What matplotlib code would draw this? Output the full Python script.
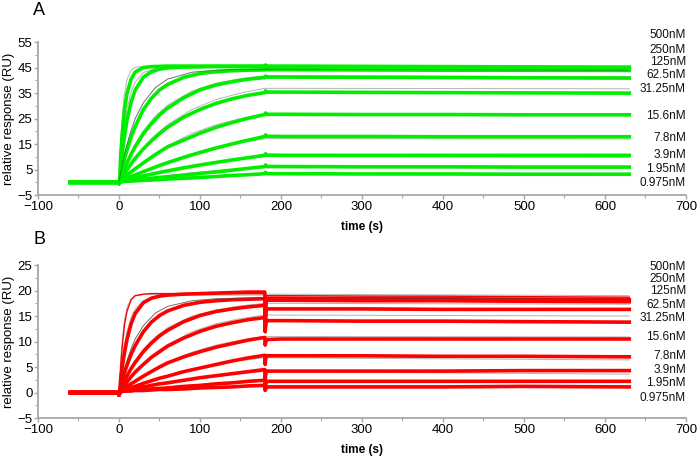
import matplotlib
matplotlib.use('Agg')
import matplotlib.pyplot as plt
from matplotlib.ticker import MultipleLocator, AutoMinorLocator

plt.rcParams['font.family'] = ['Liberation Sans', 'DejaVu Sans']

# --- data ---
conc_labels = ['500nM', '250nM', '125nM', '62.5nM', '31.25nM',
               '15.6nM', '7.8nM', '3.9nM', '1.95nM', '0.975nM']

base_t = [-60, -1, 0]
base_val = [0.0, 0.0, -0.5]

t_assoc = [1, 2, 4, 7, 10, 15, 20, 30, 40, 50, 60, 80, 100, 120, 140, 160, 180]

a_assoc = [
    [0, 10, 19, 29, 35, 40.5, 43.3, 45.0, 45.4, 45.5, 45.6, 45.6, 45.6, 45.6, 45.6, 45.6, 45.6],
    [0, 6, 11.5, 18.5, 24.5, 31.5, 36.2, 41.2, 43.4, 44.4, 44.9, 45.2, 45.3, 45.4, 45.4, 45.4, 45.4],
    [0, 3.0, 5.8, 9.5, 12.7, 17.8, 21.9, 28.5, 33.0, 36.2, 38.4, 41.2, 42.7, 43.4, 43.8, 44.0, 44.1],
    [0, 1.7, 3.3, 5.6, 7.7, 11.0, 14.0, 19.0, 23.0, 26.4, 29.1, 33.2, 36.3, 38.2, 39.5, 40.5, 41.1],
    [0, 1.1, 2.1, 3.6, 5.0, 7.3, 9.4, 13.1, 16.3, 19.1, 21.6, 25.6, 28.6, 31.0, 32.8, 34.2, 35.2],
    [0, 0.7, 1.3, 2.1, 2.9, 4.1, 5.3, 7.6, 9.8, 11.9, 13.9, 16.6, 19.3, 21.6, 23.5, 25.2, 26.6],
    [0, 0.5, 0.8, 1.2, 1.6, 2.3, 2.9, 4.2, 5.4, 6.6, 7.7, 9.8, 11.7, 13.5, 15.1, 16.6, 18.0],
    [0, 0.4, 0.6, 0.8, 1.0, 1.4, 1.8, 2.5, 3.2, 3.9, 4.5, 5.7, 6.8, 7.8, 8.8, 9.7, 10.6],
    [0, 0.3, 0.4, 0.5, 0.6, 0.8, 1.0, 1.3, 1.6, 1.9, 2.2, 2.8, 3.5, 4.1, 4.8, 5.5, 6.2],
    [0, 0.2, 0.3, 0.4, 0.5, 0.5, 0.6, 0.8, 0.9, 1.1, 1.3, 1.6, 1.9, 2.3, 2.7, 3.0, 3.4],
]

t_dissoc_a = [181, 183, 200, 300, 400, 500, 630]
a_dissoc = [
    [46.0, 45.6, 45.6, 45.5, 45.4, 45.3, 45.2],
    [45.8, 45.3, 45.2, 45.0, 44.9, 44.8, 44.6],
    [44.6, 44.2, 44.2, 44.1, 44.0, 44.0, 43.9],
    [41.7, 41.3, 41.3, 41.2, 41.1, 41.0, 40.9],
    [35.9, 35.4, 35.4, 35.3, 35.2, 35.1, 35.0],
    [27.2, 26.7, 26.7, 26.6, 26.6, 26.5, 26.5],
    [18.6, 18.1, 18.0, 18.0, 17.9, 17.9, 17.9],
    [11.2, 10.7, 10.6, 10.6, 10.6, 10.6, 10.6],
    [6.8, 6.2, 6.2, 6.1, 6.1, 6.0, 6.0],
    [3.9, 3.4, 3.4, 3.3, 3.3, 3.2, 3.2],
]

t_fit = [0, 3, 6, 10, 15, 20, 30, 45, 60, 90, 120, 150, 180, 630]
a_fit = [
    [0, 21, 33, 40.5, 44, 45.1, 45.5, 45.6, 45.6, 45.6, 45.6, 45.6, 45.6, 45.3],
    [0, 12, 21, 29, 35.5, 39.3, 43.0, 44.8, 45.2, 45.4, 45.4, 45.4, 45.4, 44.8],
    [0, 5.3, 10, 15, 20.5, 25, 31.2, 37.2, 40.5, 43.2, 44.0, 44.3, 44.4, 44.0],
    [0, 2.8, 5.3, 8.4, 12, 15, 20.2, 26, 30.3, 35.8, 38.9, 40.7, 41.8, 41.5],
    [0, 1.6, 3.1, 5.0, 7.3, 9.5, 13.4, 18.6, 22.6, 28.6, 32.5, 35.0, 36.9, 36.7],
    [0, 0.9, 1.8, 2.9, 4.2, 5.5, 8.0, 11.5, 14.4, 19.2, 22.6, 25.0, 26.8, 26.8],
    [0, 0.5, 1.0, 1.5, 2.3, 3.0, 4.4, 6.4, 8.2, 11.3, 13.8, 15.6, 17.1, 17.0],
    [0, 0.3, 0.6, 0.9, 1.3, 1.7, 2.5, 3.6, 4.7, 6.6, 8.2, 9.4, 10.2, 9.8],
    [0, 0.2, 0.4, 0.6, 0.8, 1.0, 1.4, 2.1, 2.7, 3.8, 4.6, 5.3, 5.8, 5.6],
    [0, 0.1, 0.2, 0.3, 0.4, 0.5, 0.8, 1.1, 1.4, 2.0, 2.5, 2.8, 3.1, 2.9],
]

b_assoc = [
    [0, 5, 9, 13.5, 16, 18.2, 19.0, 19.3, 19.4, 19.4, 19.4, 19.4, 19.4, 19.4, 19.4, 19.4, 19.4],
    [0, 2.6, 5.0, 8.0, 10.5, 13.5, 15.5, 17.6, 18.5, 18.9, 19.1, 19.3, 19.4, 19.5, 19.6, 19.7, 19.7],
    [0, 1.3, 2.5, 4.0, 5.4, 7.5, 9.2, 11.9, 13.8, 15.1, 16.0, 17.1, 17.7, 18.0, 18.2, 18.3, 18.4],
    [0, 0.8, 1.5, 2.4, 3.3, 4.7, 5.9, 8.0, 9.7, 11.1, 12.2, 13.9, 15.1, 15.9, 16.4, 16.8, 17.1],
    [0, 0.5, 0.9, 1.5, 2.1, 3.1, 4.0, 5.5, 6.9, 8.0, 9.1, 10.7, 12.0, 13.0, 13.7, 14.3, 14.7],
    [0, 0.3, 0.6, 0.9, 1.2, 1.7, 2.2, 3.2, 4.1, 5.0, 5.8, 7.0, 8.0, 8.9, 9.6, 10.3, 10.8],
    [0, 0.3, 0.4, 0.5, 0.7, 1.0, 1.2, 1.8, 2.3, 2.8, 3.2, 4.1, 4.8, 5.5, 6.2, 6.8, 7.3],
    [0, 0.2, 0.3, 0.4, 0.5, 0.6, 0.8, 1.1, 1.4, 1.7, 1.9, 2.4, 2.9, 3.3, 3.7, 4.1, 4.5],
    [0, 0.2, 0.3, 0.3, 0.3, 0.4, 0.5, 0.6, 0.7, 0.8, 0.9, 1.2, 1.4, 1.7, 1.9, 2.2, 2.4],
    [0, 0.2, 0.2, 0.3, 0.3, 0.3, 0.4, 0.4, 0.5, 0.6, 0.6, 0.7, 0.9, 1.0, 1.1, 1.3, 1.4],
]

t_dissoc_b = [180.5, 181.5, 183, 200, 300, 400, 500, 630]
b_dissoc = [
    [16.0, 19.0, 19.0, 19.0, 18.9, 18.9, 18.8, 18.7],
    [14.0, 18.4, 18.5, 18.5, 18.4, 18.4, 18.3, 18.2],
    [12.5, 17.9, 18.1, 18.1, 18.0, 18.0, 17.9, 17.8],
    [11.9, 16.2, 16.4, 16.4, 16.4, 16.3, 16.3, 16.3],
    [12.2, 13.8, 14.1, 14.1, 14.0, 14.0, 13.9, 13.8],
    [9.3, 10.1, 10.4, 10.5, 10.5, 10.5, 10.5, 10.5],
    [5.5, 7.0, 7.2, 7.2, 7.2, 7.1, 7.1, 7.0],
    [2.5, 4.0, 4.2, 4.2, 4.2, 4.2, 4.3, 4.3],
    [0.6, 2.0, 2.2, 2.2, 2.2, 2.2, 2.2, 2.2],
    [0.4, 0.9, 1.1, 1.1, 1.1, 1.1, 1.2, 1.1],
]

b_fit = [
    [0, 8.5, 13.5, 16.8, 18.4, 18.9, 19.2, 19.3, 19.3, 19.3, 19.3, 19.3, 19.3, 19.0],
    [0, 5, 8.7, 12, 14.8, 16.4, 18.0, 18.8, 19.0, 19.1, 19.1, 19.1, 19.1, 18.6],
    [0, 2.2, 4.2, 6.3, 8.6, 10.5, 13.1, 15.6, 16.9, 18.0, 18.4, 18.5, 18.6, 18.3],
    [0, 1.2, 2.2, 3.5, 5.0, 6.3, 8.5, 10.9, 12.7, 15.0, 16.2, 17.0, 17.5, 17.3],
    [0, 0.7, 1.3, 2.1, 3.0, 3.9, 5.6, 7.8, 9.4, 11.9, 13.5, 14.5, 15.2, 15.0],
    [0, 0.4, 0.7, 1.2, 1.7, 2.3, 3.3, 4.8, 6.0, 7.9, 9.3, 10.3, 11.0, 10.9],
    [0, 0.2, 0.4, 0.6, 0.9, 1.2, 1.8, 2.6, 3.3, 4.6, 5.6, 6.3, 6.8, 6.4],
    [0, 0.1, 0.2, 0.4, 0.5, 0.7, 1.0, 1.5, 1.9, 2.7, 3.3, 3.8, 4.1, 3.6],
    [0, 0.1, 0.1, 0.2, 0.3, 0.4, 0.6, 0.8, 1.0, 1.4, 1.8, 2.1, 2.3, 2.1],
    [0, 0.1, 0.1, 0.1, 0.2, 0.2, 0.3, 0.4, 0.5, 0.7, 0.9, 1.1, 1.2, 1.1],
]

# label heights (layout only)
label_y_a = [57.7, 52.1, 47.2, 42.2, 36.8, 26.1, 17.5, 10.7, 5.1, -0.4]
label_y_b = [24.7, 22.3, 20.0, 17.2, 14.7, 10.9, 7.2, 4.5, 1.8, -1.1]

AXIS_GREY = '#a8a8a8'


def draw_panel(ax, assoc, t_dis, dissoc, fits, color, ylim, ymajor, ystart, label_y, thin_top):
    # fitted curves first (thin grey), then measured data on top
    for fit in fits:
        ax.plot(t_fit, fit, color='#b4b4b4', lw=0.7, zorder=2)
    for i in range(len(assoc)):
        t = base_t + t_assoc + t_dis
        y = base_val + assoc[i] + dissoc[i]
        lw = 1.0 if (thin_top and i == 0) else 2.6
        ax.plot(t, y, color=color, lw=lw, zorder=3, solid_joinstyle='round')
    # one darker fit line shows through along the top cluster
    ax.plot(t_fit, fits[2], color='#444444', lw=0.5, alpha=0.7, zorder=4)

    ax.set_xlim(-100, 700)
    ax.set_ylim(*ylim)
    ax.xaxis.set_major_locator(MultipleLocator(100))
    ax.xaxis.set_minor_locator(AutoMinorLocator(2))
    ax.set_yticks(list(range(ystart, ylim[1] + 1, ymajor)))
    ax.yaxis.set_minor_locator(AutoMinorLocator(2))
    for s in ['top', 'right']:
        ax.spines[s].set_visible(False)
    for s in ['left', 'bottom']:
        ax.spines[s].set_color(AXIS_GREY)
        ax.spines[s].set_linewidth(1.3)
    ax.tick_params(which='both', colors=AXIS_GREY, labelcolor='black',
                   labelsize=9.5, direction='out')
    ax.tick_params(which='major', length=3, width=1)
    ax.tick_params(which='minor', length=2, width=0.8)
    ax.tick_params(axis='x', pad=1)
    ax.tick_params(axis='y', pad=1)
    ax.set_xlabel('time (s)', fontsize=8.5, fontweight='bold', labelpad=6)
    ax.set_ylabel('relative response (RU)', fontsize=9.5, labelpad=2)

    for lab, yy in zip(conc_labels, label_y):
        ax.text(700, yy, lab, ha='right', va='center', fontsize=8.5,
                clip_on=False, color='#111111')


fig = plt.figure(figsize=(6.97, 4.58), dpi=100)
ax_a = fig.add_axes([0.0545, 0.574, 0.9297, 0.334])
ax_b = fig.add_axes([0.0545, 0.0873, 0.9297, 0.334])

draw_panel(ax_a, a_assoc, t_dissoc_a, a_dissoc, a_fit, '#00ee00',
           (-5, 55), 10, -5, label_y_a, False)
draw_panel(ax_b, b_assoc, t_dissoc_b, b_dissoc, b_fit, '#ff0000',
           (-5, 25), 5, -5, label_y_b, True)

fig.text(0.048, 0.978, 'A', fontsize=13, va='center', ha='left')
fig.text(0.048, 0.478, 'B', fontsize=13, va='center', ha='left')

fig.savefig('out.png', dpi=100)
